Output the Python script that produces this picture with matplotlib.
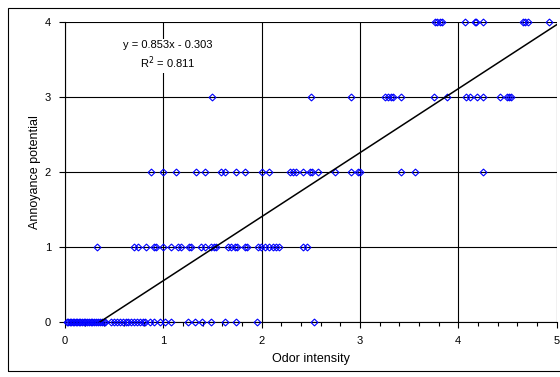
import numpy as np
import matplotlib
matplotlib.use("Agg")
import matplotlib.pyplot as plt
from matplotlib.patches import Rectangle

plt.rcParams['font.family'] = ['Liberation Sans', 'DejaVu Sans']

# odor intensity readings for each annoyance level
x_level0 = [0.02, 0.03, 0.05, 0.06, 0.08, 0.09, 0.11, 0.12, 0.14, 0.15, 0.17, 0.19,
            0.20, 0.22, 0.24, 0.26, 0.28, 0.30, 0.32, 0.34, 0.36, 0.38, 0.40, 0.41,
            0.47, 0.50, 0.53, 0.56, 0.59, 0.62, 0.64, 0.67, 0.70, 0.73, 0.76, 0.79, 0.81,
            0.86, 0.91, 0.97, 1.02, 1.08, 1.25, 1.32, 1.39, 1.49, 1.63, 1.74, 1.95, 2.53]
x_level1 = [0.33, 0.70, 0.74, 0.82, 0.91, 0.93, 1.00, 1.08, 1.15, 1.18, 1.26, 1.28,
            1.38, 1.42, 1.49, 1.52, 1.54, 1.66, 1.69, 1.73, 1.75, 1.83, 1.85, 1.96,
            1.99, 2.03, 2.08, 2.12, 2.15, 2.18, 2.42, 2.46]
x_level2 = [0.88, 1.00, 1.13, 1.33, 1.42, 1.59, 1.63, 1.74, 1.83, 2.00, 2.08, 2.29,
            2.32, 2.35, 2.42, 2.49, 2.51, 2.57, 2.75, 2.91, 2.98, 3.00, 3.42, 3.56, 4.25]
x_level3 = [1.50, 2.50, 2.91, 3.25, 3.28, 3.32, 3.34, 3.42, 3.75, 3.88, 4.08, 4.12,
            4.19, 4.25, 4.42, 4.50, 4.52, 4.54]
x_level4 = [3.76, 3.78, 3.81, 3.83, 4.07, 4.17, 4.18, 4.25, 4.66, 4.68, 4.71, 4.92]
levels = [0, 1, 2, 3, 4]

slope = 0.853
intercept = -0.303
r2 = 0.811

fig = plt.figure(figsize=(5.6, 3.77), dpi=100)
ax = fig.add_axes([0.116, 0.146, 0.878, 0.796])

# chart border
fig.patches.append(Rectangle((8 / 560, 6 / 377), 560 / 560, 363 / 377,
                             transform=fig.transFigure, fill=False,
                             edgecolor='black', linewidth=0.8))

for lev, xs in zip(levels, [x_level0, x_level1, x_level2, x_level3, x_level4]):
    ax.plot(xs, [lev] * len(xs), linestyle='none', marker='D', markersize=3.5,
            markerfacecolor='none', markeredgecolor='#0000FF', markeredgewidth=0.8,
            zorder=3, clip_on=False)

# trend line from the fitted equation
x0 = -intercept / slope
xl = np.array([x0, 5.0])
ax.plot(xl, slope * xl + intercept, color='black', linewidth=1.1, zorder=4)

eq = "y = 0.853x - 0.303\nR$^2$ = %.3f" % r2
ax.text(1.05, 3.555, eq, fontsize=8, ha='center', va='center', multialignment='center',
        linespacing=1.35, zorder=5,
        bbox=dict(facecolor='white', edgecolor='none', pad=1.5))

ax.set_xlim(0, 5)
ax.set_ylim(0, 4)
ax.set_xticks([0, 1, 2, 3, 4, 5])
ax.set_xticks(np.arange(0, 5.01, 0.2), minor=True)
ax.set_yticks([0, 1, 2, 3, 4])
ax.grid(True, which='major', color='black', linewidth=0.8)
ax.set_axisbelow(True)
ax.spines['top'].set_visible(False)
ax.spines['right'].set_visible(False)
ax.tick_params(axis='both', labelsize=8, width=0.8, length=4, pad=6)
ax.tick_params(axis='x', which='minor', length=3, width=0.8)
ax.set_xlabel("Odor intensity", fontsize=9, labelpad=5)
ax.set_ylabel("Annoyance potential", fontsize=9, labelpad=3)

fig.savefig("out.png", dpi=100)
